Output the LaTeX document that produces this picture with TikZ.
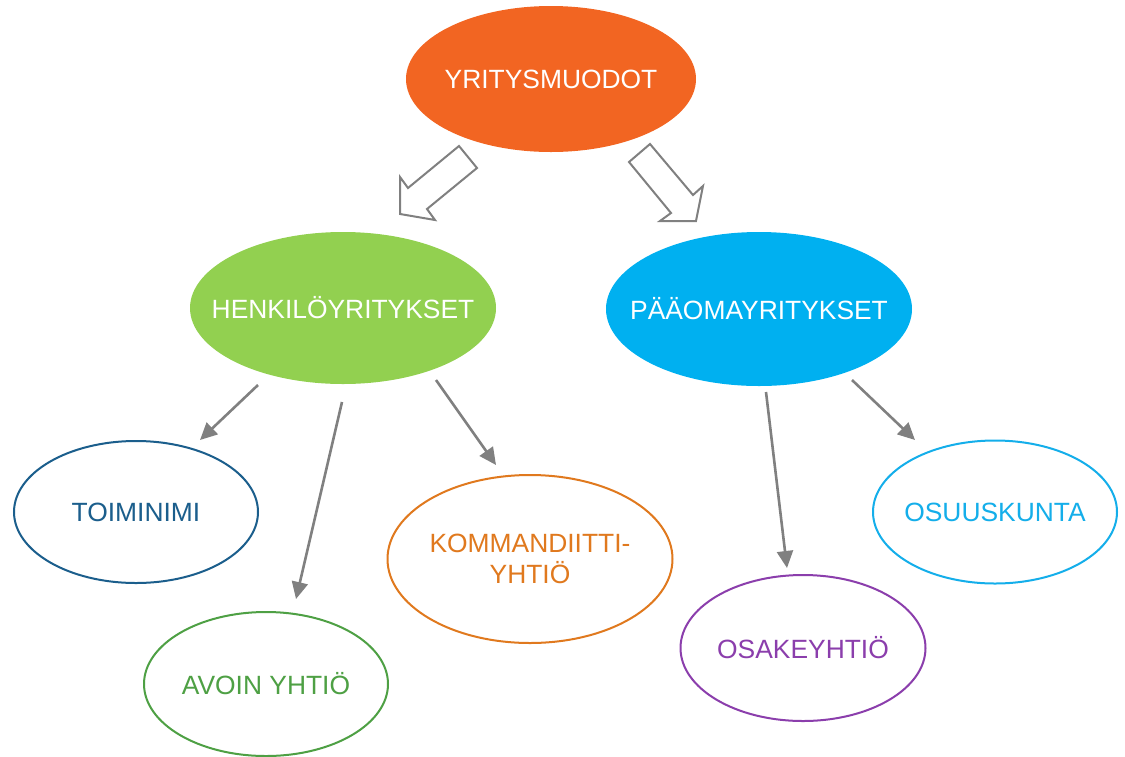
\documentclass[tikz,border=0pt]{standalone}
\usepackage{fontspec}
\setmainfont{Liberation Sans}
\usetikzlibrary{arrows.meta,shapes.geometric}
\definecolor{cOrange}{HTML}{F26522}
\definecolor{cGreen}{HTML}{92D050}
\definecolor{cCyan}{HTML}{00B0F0}
\definecolor{cNavy}{HTML}{1B5E8C}
\definecolor{cLeaf}{HTML}{4EA044}
\definecolor{cAmber}{HTML}{E0791E}
\definecolor{cPurple}{HTML}{8B3EAC}
\definecolor{cSky}{HTML}{14AEEA}
\definecolor{cGray}{HTML}{808080}
\tikzset{
  % ellipse of a fixed size; the caption is a centred label so it cannot grow the shape
  oval/.style args={#1/#2}{ellipse, minimum width=#1pt, minimum height=#2pt, inner sep=0pt},
  caption/.style 2 args={label={[text=#1, font=\fontsize{26.4}{31}\selectfont, align=center, inner sep=0pt]center:#2}},
  mainoval/.style={fill=#1, draw=none},
  suboval/.style={draw=#1, line width=2pt, fill=white},
  link/.style={draw=cGray, line width=2.6pt, -{Triangle[length=17pt,width=16pt]}},
  blockarrow/.style={draw=cGray, line width=2pt, fill=white, line join=miter}
}
\begin{document}
\begin{tikzpicture}[x=1pt,y=-1pt]
\useasboundingbox (0,0) rectangle (1125,756);

% level 0 and level 1
\node[oval=290/146, mainoval=cOrange, caption={white}{YRITYSMUODOT}] (root) at (551,79) {};
\node[oval=306/152, mainoval=cGreen, caption={white}{HENKILÖYRITYKSET}] (henk) at (343,308) {};
\node[oval=306/154, mainoval=cCyan, caption={white}{PÄÄOMAYRITYKSET}] (paao) at (759,309) {};

% level 2
\node[oval=244/142, suboval=cNavy, caption={cNavy}{TOIMINIMI}] (toim) at (136,512) {};
\node[oval=244/144, suboval=cLeaf, caption={cLeaf}{AVOIN YHTIÖ}] (avoin) at (266,684) {};
\node[oval=285/168, suboval=cAmber, caption={cAmber}{KOMMANDIITTI-\\YHTIÖ}] (komm) at (530,559) {};
\node[oval=245/146, suboval=cPurple, caption={cPurple}{OSAKEYHTIÖ}] (osak) at (803,648) {};
\node[oval=244/143, suboval=cSky, caption={cSky}{OSUUSKUNTA}] (osuus) at (995,512) {};

% hollow block arrows from the root
\draw[blockarrow] (459,146) -- (477,168) -- (427,209) -- (435,220) -- (400,214)
  -- (400,177) -- (408,188) -- cycle;
\draw[blockarrow] (629,162) -- (650,144) -- (693,195) -- (703,186) -- (696,221)
  -- (660,221) -- (671,213) -- cycle;

% connector end points
\coordinate (h1) at (258,385); \coordinate (t1) at (200,440);
\coordinate (h2) at (342,402); \coordinate (t2) at (296,599);
\coordinate (h3) at (436,380); \coordinate (t3) at (496,465);
\coordinate (p1) at (766,392); \coordinate (t4) at (787,568);
\coordinate (p2) at (852,380); \coordinate (t5) at (915,440);

\draw[link] (h1) -- (t1);
\draw[link] (h2) -- (t2);
\draw[link] (h3) -- (t3);
\draw[link] (p1) -- (t4);
\draw[link] (p2) -- (t5);
\end{tikzpicture}
\end{document}
